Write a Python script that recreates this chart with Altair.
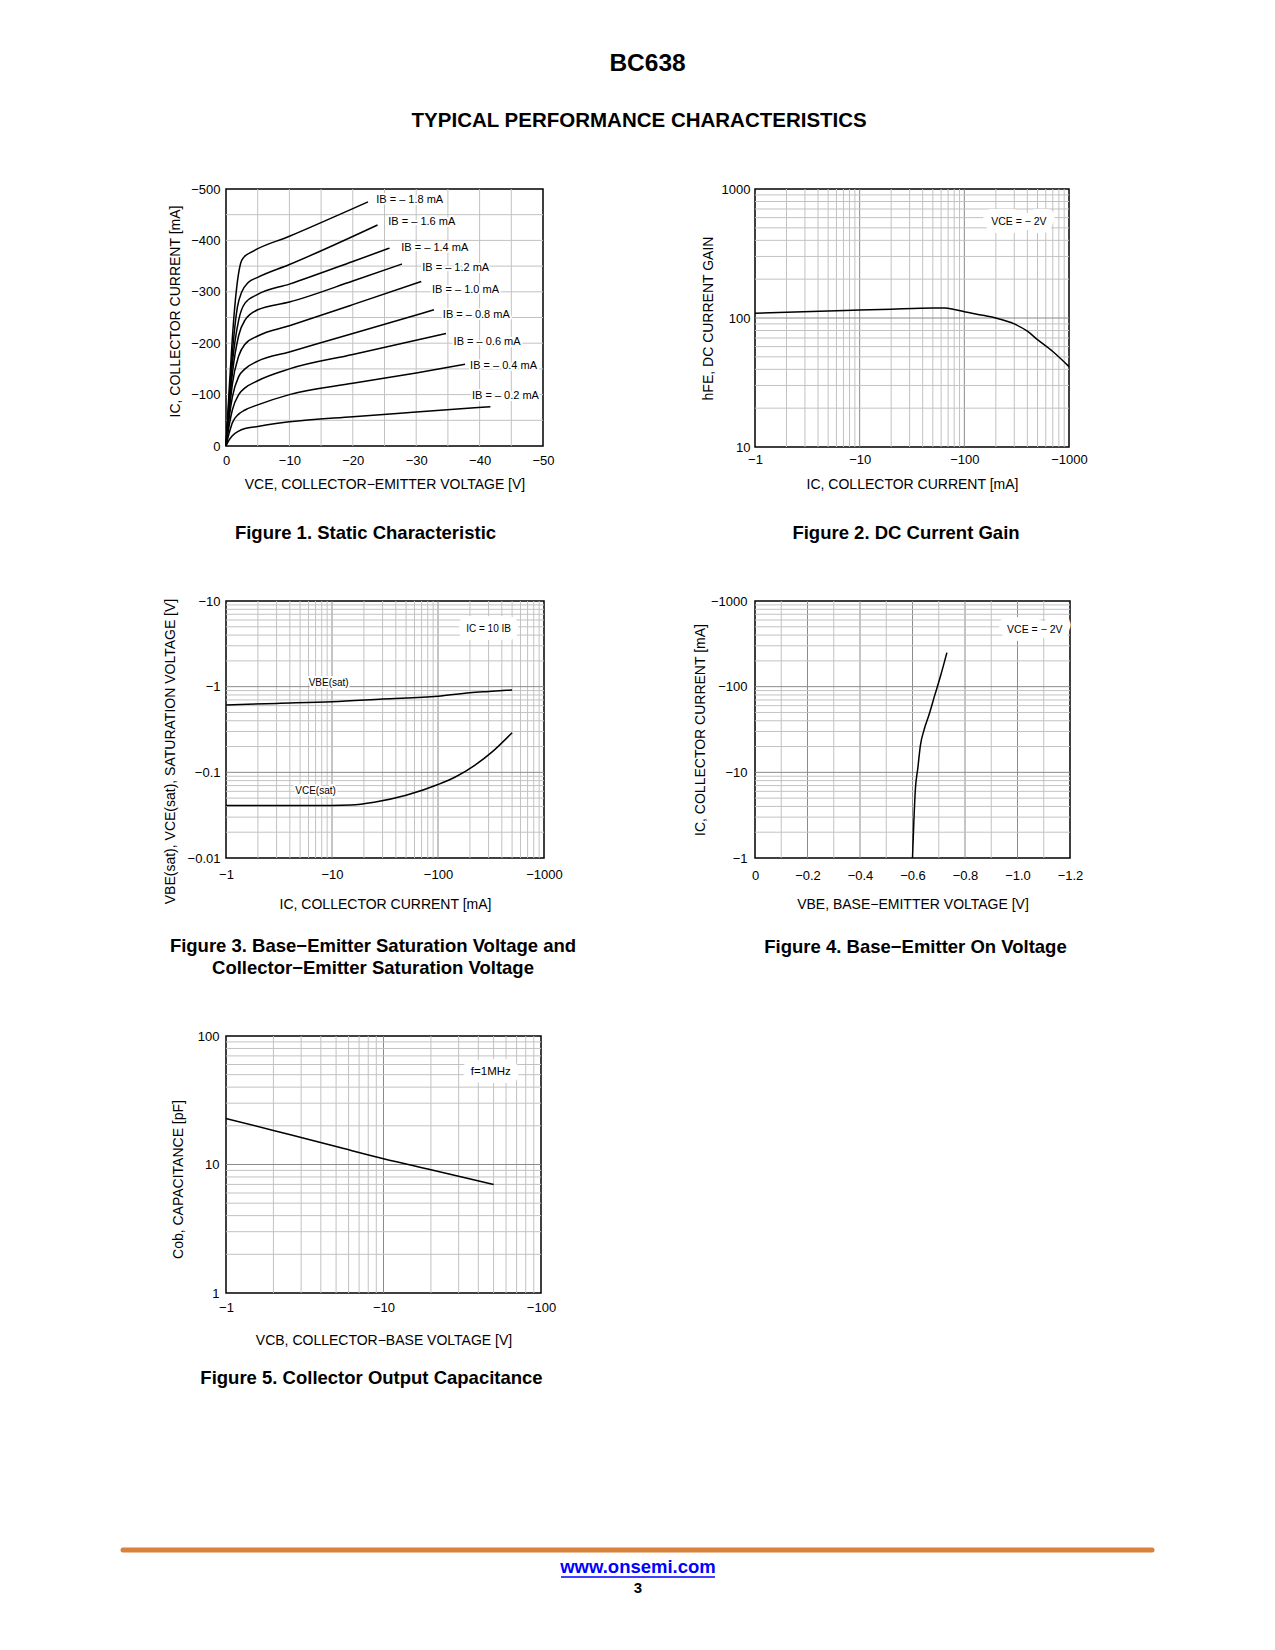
import altair as alt
import pandas as pd

FONT = "Liberation Sans"
MINOR = "#c2c2c2"
MAJOR = "#8a8a8a"

# ---------------- Figure 1: static characteristic (magnitudes; labels add the minus sign)
vce_ib02 = [0, 0.5, 1, 2, 3, 5, 10, 20, 30, 41.7]
ic_ib02 = [0, 12, 20, 29, 34, 38, 47, 57, 66, 76.5]
vce_ib04 = [0, 0.5, 1, 2, 3, 5, 10, 20, 30, 37.7]
ic_ib04 = [0, 25, 45, 62, 70, 80, 100, 122, 142, 159]
vce_ib06 = [0, 0.5, 1, 2, 3, 5, 10, 20, 34.7]
ic_ib06 = [0, 40, 70, 100, 113, 127, 150, 178, 219]
vce_ib08 = [0, 0.5, 1, 2, 3, 5, 10, 20, 32.8]
ic_ib08 = [0, 55, 95, 135, 150, 165, 183, 219, 265]
vce_ib10 = [0, 0.5, 1, 2, 3, 5, 10, 20, 30.8]
ic_ib10 = [0, 65, 120, 175, 198, 214, 234, 275, 320]
vce_ib12 = [0, 0.5, 1, 2, 3, 5, 10, 20, 27.75]
ic_ib12 = [0, 75, 140, 215, 245, 265, 280, 321, 354]
vce_ib14 = [0, 0.5, 1, 2, 3, 5, 10, 20, 25.8]
ic_ib14 = [0, 85, 160, 245, 278, 295, 315, 359, 385]
vce_ib16 = [0, 0.5, 1, 1.8, 2.5, 3.5, 5, 10, 23.9]
ic_ib16 = [0, 95, 180, 270, 300, 318, 328, 353, 430]
vce_ib18 = [0, 0.5, 1, 1.7, 2.3, 2.8, 4, 10, 22.4]
ic_ib18 = [0, 110, 210, 310, 355, 367, 377, 408, 475]
ib_names = ["0.2", "0.4", "0.6", "0.8", "1.0", "1.2", "1.4", "1.6", "1.8"]
ib_label_text = ["IB = – 0.2 mA", "IB = – 0.4 mA", "IB = – 0.6 mA", "IB = – 0.8 mA",
                 "IB = – 1.0 mA", "IB = – 1.2 mA", "IB = – 1.4 mA", "IB = – 1.6 mA",
                 "IB = – 1.8 mA"]
ib_label_vce = [38.8, 38.5, 35.9, 34.2, 32.5, 30.95, 27.65, 25.6, 23.7]
ib_label_ic = [97, 155.6, 203, 255, 303, 347, 384.6, 435, 478.6]
f1_xticks = [0, 10, 20, 30, 40, 50]
f1_yticks = [0, 100, 200, 300, 400, 500]
f1_grid_x = [5, 10, 15, 20, 25, 30, 35, 40, 45]
f1_grid_y = [50, 100, 150, 200, 250, 300, 350, 400, 450]

# ---------------- Figure 2: DC current gain
f2_ic = [1, 2, 5, 10, 20, 50, 65, 80, 100, 150, 200, 300, 400, 500, 700, 1000]
f2_hfe = [108.7, 110.6, 113.2, 115.3, 117.1, 119.3, 119.5, 116.5, 112, 105, 100, 90, 79, 68, 55, 42]
f2_note = ["VCE = − 2V"]
f2_note_ic = [332]
f2_note_hfe = [555]
f2_xticks = [1, 10, 100, 1000]
f2_yticks = [10, 100, 1000]

# ---------------- Figure 3: saturation voltages
f3_vbe_ic = [1, 3, 10, 30, 100, 200, 300, 500]
f3_vbe_v = [0.611, 0.638, 0.668, 0.716, 0.772, 0.85, 0.879, 0.914]
f3_vce_ic = [1, 5, 10, 15, 25, 50, 100, 150, 220, 320, 500]
f3_vce_v = [0.041, 0.041, 0.041, 0.0415, 0.0448, 0.054, 0.072, 0.09, 0.12, 0.171, 0.29]
f3_notes = ["VBE(sat)", "VCE(sat)"]
f3_notes_ic = [9.3, 7.0]
f3_notes_v = [1.09, 0.0605]
f3_box = ["IC = 10 IB"]
f3_box_ic = [300]
f3_box_v = [4.7]
f3_xticks = [1, 10, 100, 1000]
f3_yticks = [0.01, 0.1, 1, 10]

# ---------------- Figure 4: base-emitter on voltage
f4_vbe = [0.600, 0.605, 0.611, 0.620, 0.630, 0.645, 0.662, 0.684, 0.707, 0.731]
f4_ic = [1, 2.6, 6.4, 11, 20.5, 32, 46, 78, 134, 250]
f4_note = ["VCE = − 2V"]
f4_note_v = [1.066]
f4_note_ic = [456]
f4_xticks = [0, 0.2, 0.4, 0.6, 0.8, 1.0, 1.2]
f4_grid_x_minor = [0.1, 0.3, 0.5, 0.7, 0.9, 1.1]
f4_grid_x_major = [0.2, 0.4, 0.6, 0.8, 1.0]
f4_yticks = [1, 10, 100, 1000]

# ---------------- Figure 5: collector output capacitance
f5_vcb = [1, 2, 3, 5, 10, 20, 30, 50]
f5_cob = [22.8, 18.4, 16.2, 13.8, 11.1, 9.1, 8.1, 7.0]
f5_note = ["f=1MHz"]
f5_note_v = [48]
f5_note_c = [52.4]
f5_xticks = [1, 10, 100]
f5_yticks = [1, 10, 100]

# footer / header texts
page_title = "BC638"
page_subtitle = "TYPICAL PERFORMANCE CHARACTERISTICS"
footer_url = ["www.onsemi.com"]
footer_page = ["3"]


def minors(decades):
    return [round(m * 10 ** d, 6) for d in decades for m in range(2, 10)]


def decade_lines(decades):
    return [round(10 ** d, 6) for d in decades]


NEG = "'\u2212' + datum.value"


def make_fig(width, height, xs, ys, xa, ya, gxm, gxM, gym, gyM, layers_fn,
             caption, cap_dx, cap_offset):
    X = lambda f: alt.X(f"{f}:Q", scale=xs, axis=xa)
    Y = lambda f: alt.Y(f"{f}:Q", scale=ys, axis=ya)
    grid = []
    for vals, col in ((gxm, MINOR), (gxM, MAJOR)):
        if vals:
            grid.append(alt.Chart(pd.DataFrame({"g": vals})).mark_rule(
                color=col, strokeWidth=1).encode(x=X("g")))
    for vals, col in ((gym, MINOR), (gyM, MAJOR)):
        if vals:
            grid.append(alt.Chart(pd.DataFrame({"g": vals})).mark_rule(
                color=col, strokeWidth=1).encode(y=Y("g")))
    return alt.layer(*grid, *layers_fn(X, Y)).properties(
        width=width, height=height,
        view=alt.ViewBackground(stroke="black", strokeWidth=1.5),
        title=alt.TitleParams(text=caption, orient="bottom", anchor="middle", font=FONT,
                              fontSize=18.5, fontWeight="bold", color="black",
                              dx=cap_dx, offset=cap_offset, lineHeight=22),
    )


def notes(df, X, Y, xf, yf, size, align, halo):
    base = alt.Chart(df)
    return [
        base.mark_text(align=align, baseline="middle", font=FONT, fontSize=size,
                       color="white", stroke="white", strokeWidth=halo,
                       strokeJoin="round").encode(x=X(xf), y=Y(yf), text="t:N"),
        base.mark_text(align=align, baseline="middle", font=FONT, fontSize=size,
                       color="black").encode(x=X(xf), y=Y(yf), text="t:N"),
    ]


def curve(df, X, Y, xf, yf, detail=None):
    ch = alt.Chart(df).mark_line(color="black", strokeWidth=1.5, interpolate="monotone")
    if detail:
        return ch.encode(x=X(xf), y=Y(yf), detail=f"{detail}:N")
    return ch.encode(x=X(xf), y=Y(yf))


# ---------- Figure 1
curves1 = [vce_ib02, vce_ib04, vce_ib06, vce_ib08, vce_ib10, vce_ib12, vce_ib14, vce_ib16, vce_ib18]
ics1 = [ic_ib02, ic_ib04, ic_ib06, ic_ib08, ic_ib10, ic_ib12, ic_ib14, ic_ib16, ic_ib18]
df1 = pd.concat([pd.DataFrame({"vce": v, "ic": i, "ib": n})
                 for n, v, i in zip(ib_names, curves1, ics1)], ignore_index=True)
df1_lab = pd.DataFrame({"t": ib_label_text, "vce": ib_label_vce, "ic": ib_label_ic})

xs1 = alt.Scale(domain=[0, 50], nice=False, zero=False)
ys1 = alt.Scale(domain=[0, 500], nice=False)
xa1 = alt.Axis(values=f1_xticks, labelExpr="datum.value == 0 ? '0' : " + NEG,
               title="VCE, COLLECTOR\u2212EMITTER VOLTAGE [V]", labelPadding=8, titlePadding=10)
ya1 = alt.Axis(values=f1_yticks, labelExpr="datum.value == 0 ? '0' : " + NEG,
               title="IC, COLLECTOR CURRENT [mA]", labelPadding=6, titlePadding=8, titleY=122)
fig1 = make_fig(317, 257, xs1, ys1, xa1, ya1, f1_grid_x, [], f1_grid_y, [],
                lambda X, Y: [curve(df1, X, Y, "vce", "ic", "ib")]
                + notes(df1_lab, X, Y, "vce", "ic", 11, "left", 4),
                "Figure 1. Static Characteristic", -19, 33)

# ---------- Figure 2
df2 = pd.DataFrame({"ic": f2_ic, "hfe": f2_hfe})
df2_note = pd.DataFrame({"t": f2_note, "ic": f2_note_ic, "hfe": f2_note_hfe})
xs2 = alt.Scale(type="log", domain=[1, 1000], nice=False)
ys2 = alt.Scale(type="log", domain=[10, 1000], nice=False)
xa2 = alt.Axis(values=f2_xticks, labelExpr=NEG, title="IC, COLLECTOR CURRENT [mA]",
               labelPadding=6, titlePadding=11)
ya2 = alt.Axis(values=f2_yticks, labelExpr="'' + datum.value", title="hFE, DC CURRENT GAIN",
               labelPadding=5, titlePadding=6)
fig2 = make_fig(314, 258, xs2, ys2, xa2, ya2, minors([0, 1, 2]), decade_lines([1, 2]),
                minors([1, 2]), decade_lines([2]),
                lambda X, Y: [curve(df2, X, Y, "ic", "hfe")]
                + notes(df2_note, X, Y, "ic", "hfe", 10.5, "center", 16),
                "Figure 2. DC Current Gain", -6, 33)

# ---------- Figure 3
df3a = pd.DataFrame({"ic": f3_vbe_ic, "v": f3_vbe_v})
df3b = pd.DataFrame({"ic": f3_vce_ic, "v": f3_vce_v})
df3_notes = pd.DataFrame({"t": f3_notes, "ic": f3_notes_ic, "v": f3_notes_v})
df3_box = pd.DataFrame({"t": f3_box, "ic": f3_box_ic, "v": f3_box_v})
xs3 = alt.Scale(type="log", domain=[1, 1000], nice=False)
ys3 = alt.Scale(type="log", domain=[0.01, 10], nice=False)
xa3 = alt.Axis(values=f3_xticks, labelExpr=NEG, title="IC, COLLECTOR CURRENT [mA]",
               labelPadding=10, titlePadding=16)
ya3 = alt.Axis(values=f3_yticks, labelExpr=NEG,
               title="VBE(sat), VCE(sat), SATURATION VOLTAGE [V]",
               labelPadding=6, titlePadding=10, titleY=150)
fig3 = make_fig(318, 257, xs3, ys3, xa3, ya3, minors([0, 1, 2]), decade_lines([1, 2]),
                minors([-2, -1, 0]), decade_lines([-1, 0]),
                lambda X, Y: [curve(df3a, X, Y, "ic", "v"), curve(df3b, X, Y, "ic", "v")]
                + notes(df3_notes, X, Y, "ic", "v", 10, "center", 4)
                + notes(df3_box, X, Y, "ic", "v", 10, "center", 16),
                ["Figure 3. Base\u2212Emitter Saturation Voltage and",
                 "Collector\u2212Emitter Saturation Voltage"], -12, 26)

# ---------- Figure 4
df4 = pd.DataFrame({"v": f4_vbe, "ic": f4_ic})
df4_note = pd.DataFrame({"t": f4_note, "v": f4_note_v, "ic": f4_note_ic})
xs4 = alt.Scale(domain=[0, 1.2], nice=False, zero=False)
ys4 = alt.Scale(type="log", domain=[1, 1000], nice=False)
xa4 = alt.Axis(values=f4_xticks,
               labelExpr="datum.value == 0 ? '0' : '\u2212' + format(datum.value, '.1f')",
               title="VBE, BASE\u2212EMITTER VOLTAGE [V]", labelPadding=11, titlePadding=15)
ya4 = alt.Axis(values=f4_yticks, labelExpr=NEG, title="IC, COLLECTOR CURRENT [mA]",
               labelPadding=8, titlePadding=3)
fig4 = make_fig(315, 257, xs4, ys4, xa4, ya4, f4_grid_x_minor, f4_grid_x_major,
                minors([0, 1, 2]), decade_lines([1, 2]),
                lambda X, Y: [curve(df4, X, Y, "v", "ic")]
                + notes(df4_note, X, Y, "v", "ic", 10.5, "center", 16),
                "Figure 4. Base\u2212Emitter On Voltage", 3, 27)

# ---------- Figure 5
df5 = pd.DataFrame({"v": f5_vcb, "c": f5_cob})
df5_note = pd.DataFrame({"t": f5_note, "v": f5_note_v, "c": f5_note_c})
xs5 = alt.Scale(type="log", domain=[1, 100], nice=False)
ys5 = alt.Scale(type="log", domain=[1, 100], nice=False)
xa5 = alt.Axis(values=f5_xticks, labelExpr=NEG, title="VCB, COLLECTOR\u2212BASE VOLTAGE [V]",
               labelPadding=8, titlePadding=19)
ya5 = alt.Axis(values=f5_yticks, labelExpr="'' + datum.value", title="Cob, CAPACITANCE [pF]",
               labelPadding=7, titlePadding=12, titleY=143)
fig5 = make_fig(315, 257, xs5, ys5, xa5, ya5, minors([0, 1]), decade_lines([1]),
                minors([0, 1]), decade_lines([1]),
                lambda X, Y: [curve(df5, X, Y, "v", "c")]
                + notes(df5_note, X, Y, "v", "c", 11.5, "center", 16),
                "Figure 5. Collector Output Capacitance", -12, 22)

# ---------- footer
df_url = pd.DataFrame({"t": footer_url})
df_page = pd.DataFrame({"t": footer_page})
footer = alt.layer(
    alt.Chart(df_url).mark_rule(color="#d9823b", strokeWidth=5, strokeCap="round").encode(
        x=alt.value(-103), x2=alt.value(926), y=alt.value(0)),
    alt.Chart(df_url).mark_text(font=FONT, fontSize=18.5, fontWeight="bold", color="#0000ff",
                                baseline="middle", align="center").encode(
        x=alt.value(412), y=alt.value(17), text="t:N"),
    alt.Chart(df_url).mark_rule(color="#0000ff", strokeWidth=1.5).encode(
        x=alt.value(335), x2=alt.value(489), y=alt.value(27)),
    alt.Chart(df_page).mark_text(font=FONT, fontSize=15, fontWeight="bold", color="black",
                                 baseline="middle", align="center").encode(
        x=alt.value(412), y=alt.value(38), text="t:N"),
).properties(width=700, height=45)

grid = alt.concat(fig1, fig2, fig3, fig4, fig5, columns=2,
                  spacing={"row": 50, "column": 115}, align="each").properties(
    title=alt.TitleParams(text=page_subtitle, anchor="middle", font=FONT, fontSize=20.5,
                          fontWeight="bold", color="black", offset=51, dx=14),
)

chart = alt.vconcat(grid, footer, spacing=158).properties(
    title=alt.TitleParams(text=page_title, anchor="middle", font=FONT, fontSize=24.5,
                          fontWeight="bold", color="black", offset=34, dx=10),
    padding={"left": 112, "top": 43, "right": 5, "bottom": 5},
).configure_axis(
    labelFont=FONT, labelFontSize=13, labelColor="black",
    titleFont=FONT, titleFontSize=14, titleFontWeight="normal", titleColor="black",
    domain=False, ticks=False, grid=False, labelFlush=False, labelOverlap=False,
).configure_view(strokeWidth=0)

chart.save("out.html", embed_options={"renderer": "svg", "actions": False})
